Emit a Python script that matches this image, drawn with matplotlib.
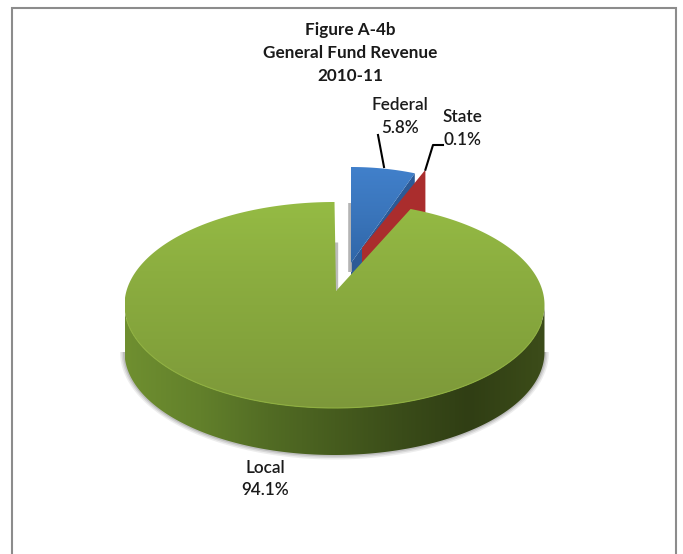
import numpy as np
import matplotlib
matplotlib.use('Agg')
import matplotlib.pyplot as plt
from matplotlib.colors import LinearSegmentedColormap
from matplotlib.patches import Polygon

plt.rcParams['font.family'] = ['Lato', 'DejaVu Sans']

# Chart data
categories = ['Federal', 'State', 'Local']
shares = [5.8, 0.1, 94.1]
title_lines = ['Figure A-4b', 'General Fund Revenue', '2010-11']

DEPTH = 47


def rim(cx, cy, a, b, start, stop, n=300):
    """Points on the pie rim, angles in degrees clockwise from the top"""
    t = np.radians(np.linspace(start, stop, n))
    return np.column_stack([cx + a * np.sin(t), cy - b * np.cos(t)])


def gradient_fill(ax, pts, colors, horizontal=False, zorder=2):
    """Fill a polygon with a linear gradient clipped to its outline"""
    x0, y0 = pts.min(axis=0)
    x1, y1 = pts.max(axis=0)
    cmap = LinearSegmentedColormap.from_list('fill', colors)
    ramp = np.linspace(0, 1, 256)
    ramp = ramp.reshape(1, -1) if horizontal else ramp.reshape(-1, 1)
    im = ax.imshow(ramp, cmap=cmap, extent=(x0, x1, y1, y0), aspect='auto',
                   interpolation='bilinear', zorder=zorder)
    outline = Polygon(pts, closed=True, transform=ax.transData,
                      facecolor='none', edgecolor='none')
    ax.add_patch(outline)
    im.set_clip_path(outline)


fig = plt.figure(figsize=(6.83, 5.54), dpi=100)
ax = fig.add_axes([0, 0, 1, 1])

# Slice angles from the shares, clockwise from 12 o'clock
edges = np.concatenate([[0], np.cumsum(shares)]) * 3.6
fed_start, fed_stop = edges[0], edges[1]
state_stop = edges[2]

# Frame around the chart area
ax.plot([12, 12, 676, 676], [554, 7.5, 7.5, 554], color='#8c8c8c', lw=1.5,
        solid_joinstyle='miter', zorder=1)

# Federal slice, pulled out of the pie
fx, fy, fa, fb = 351, 263, 179, 96
fed_arc = rim(fx, fy, fa, fb, fed_start, fed_stop, 60)
tip = fed_arc[-1]
fed_wall = np.array([[fx, fy], tip, tip + [0, DEPTH], [fx, fy + DEPTH]])
ax.add_patch(Polygon(fed_wall, closed=True, fc='#2c5a96', ec='none', zorder=2))
fed_face = np.vstack([[fx, fy], fed_arc])
gradient_fill(ax, fed_face, ['#4180cb', '#3a75bb', '#2f66a8'], zorder=3)

# State slice: so thin that only its cut wall shows
sx, sy, sa, sb = 362, 248, 175, 84
state_arc = rim(sx, sy, sa, sb, fed_stop, state_stop, 10)
outer = state_arc[-1]
state_wall = np.array([[sx, sy], outer, outer + [0, DEPTH], [sx, sy + DEPTH]])
ax.add_patch(Polygon(state_wall, closed=True, fc='#aa2d2d', ec='none', zorder=4))

# Thin shadows on the open cuts beside the gap
ax.plot([fx - 1.5, fx - 1.5], [fy - 60, fy + 9], color='#b4b4b4', lw=2.6,
        solid_capstyle='butt', zorder=2)
ax.plot([336, 336], [242, 290], color='#bcbcbc', lw=2.4,
        solid_capstyle='butt', zorder=2)

# Local slice
cx, cy, a, b = 334.5, 305, 210, 103
apex = np.array([336, 291])

# Soft shadow below the pie wall
for grow, alpha in zip([4.5, 3.0, 1.5], [0.10, 0.14, 0.20]):
    shadow = rim(cx, cy + DEPTH, a + grow, b + grow, 90, 270)
    ax.add_patch(Polygon(shadow, closed=True, fc='#555555', ec='none',
                         alpha=alpha, zorder=5))

wall_top = rim(cx, cy, a, b, 90, 270)
wall_bottom = rim(cx, cy + DEPTH, a, b, 90, 270)
wall = np.vstack([wall_top, wall_bottom[::-1]])
gradient_fill(ax, wall,
              [(0.0, '#6f8f30'), (0.18, '#62802b'), (0.34, '#526c24'),
               (0.5, '#465c1e'), (0.66, '#3a4c19'), (0.82, '#303e14'),
               (0.97, '#3a4a18'), (1.0, '#3c4c1a')],
              horizontal=True, zorder=6)

local_arc = rim(cx, cy, a, b, state_stop, 360, 600)
local_face = np.vstack([apex, local_arc])
gradient_fill(ax, local_face, ['#95bb44', '#8cae40', '#84a43c', '#7d983a'],
              zorder=7)
front = rim(cx, cy, a, b, 100, 262)
ax.plot(front[:, 0], front[:, 1], color='#8fb040', lw=0.8, zorder=8)

# Leader lines
ax.plot([378, 384], [135, 167], color='black', lw=1.5, zorder=9)
ax.plot([443, 433, outer[0]], [145, 145, outer[1]], color='black', lw=1.5, zorder=9)

# Title
for line, y in zip(title_lines, [30, 53, 76]):
    ax.text(350.5, y, line, ha='center', va='center', fontsize=12.3,
            fontweight='bold', color='#1a1a1a')

# Data labels
label_pos = {'Federal': (400, 105, 128), 'State': (462, 117, 140),
             'Local': (265, 468, 490)}
for name, share in zip(categories, shares):
    x, y1, y2 = label_pos[name]
    ax.text(x, y1, name, ha='center', va='center', fontsize=12.3,
            fontweight='semibold', color='#1a1a1a')
    ax.text(x, y2, f'{share:.1f}%', ha='center', va='center', fontsize=12.3,
            fontweight='semibold', color='#1a1a1a')

ax.set_xlim(0, 683)
ax.set_ylim(554, 0)
ax.axis('off')

fig.savefig('out.png', dpi=100, facecolor='white')
